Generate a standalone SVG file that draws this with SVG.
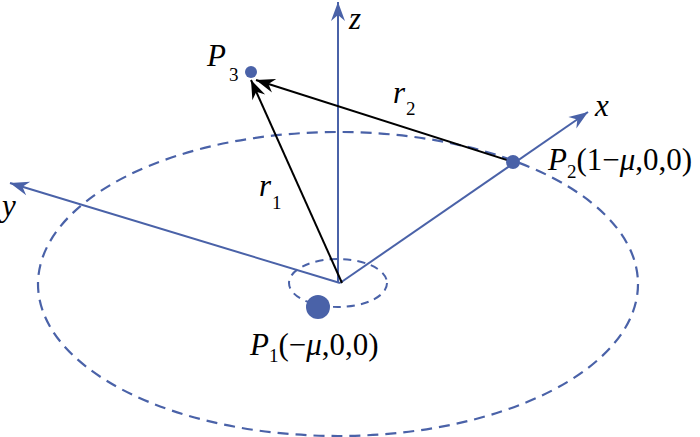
<svg xmlns="http://www.w3.org/2000/svg" width="700" height="437" viewBox="0 0 700 437">
<style>
.ax{stroke:#4a62a8;stroke-width:2;fill:none}
.dash{stroke:#4a62a8;stroke-width:2.2;fill:none;stroke-dasharray:11 7}
.dash2{stroke:#4a62a8;stroke-width:2;fill:none;stroke-dasharray:8 6}
.vec{stroke:#000;stroke-width:2;fill:none}
.dot{fill:#4a62a8}
text{font-family:"Liberation Serif","Times New Roman",serif;fill:#000}
.lbl{font-size:31px}
.it{font-style:italic}
.sub{font-size:19px}
</style>
<defs>
<marker id="ab" markerUnits="userSpaceOnUse" markerWidth="24" markerHeight="16" viewBox="-20 -8 22 16" refX="0" refY="0" orient="auto">
<path d="M0,0 L-19,-7 L-13,0 L-19,7 Z" fill="#4a62a8"/>
</marker>
<marker id="ak" markerUnits="userSpaceOnUse" markerWidth="24" markerHeight="16" viewBox="-20 -8 22 16" refX="0" refY="0" orient="auto">
<path d="M0,0 L-19,-7 L-13,0 L-19,7 Z" fill="#000"/>
</marker>
</defs>
<g id="orbits">
<ellipse class="dash" cx="338" cy="284" rx="300" ry="152"/>
<ellipse class="dash2" cx="338" cy="283" rx="49" ry="24"/>
</g>
<g id="connectors">
<line id="z-axis" class="ax" x1="338" y1="283" x2="338" y2="2" marker-end="url(#ab)"/>
<line id="x-axis" class="ax" x1="340" y1="283" x2="588" y2="112" marker-end="url(#ab)"/>
<line id="y-axis" class="ax" x1="340" y1="283" x2="10" y2="183" marker-end="url(#ab)"/>
<line id="r1" class="vec" x1="342" y1="283" x2="251" y2="80" marker-end="url(#ak)"/>
<line id="r2" class="vec" x1="513" y1="162" x2="256" y2="80" marker-end="url(#ak)"/>
</g>
<g id="P1">
<circle class="dot" cx="318" cy="307" r="12"/>
<text class="lbl" x="250" y="355"><tspan class="it">P</tspan><tspan class="sub" dy="7">1</tspan><tspan dy="-7">(−</tspan><tspan class="it">μ</tspan><tspan>,0,0)</tspan></text>
</g>
<g id="P2">
<circle class="dot" cx="513" cy="162" r="7"/>
<text class="lbl" x="548" y="170"><tspan class="it">P</tspan><tspan class="sub" dy="8">2</tspan><tspan dy="-8">(1−</tspan><tspan class="it">μ</tspan><tspan>,0,0)</tspan></text>
</g>
<g id="P3">
<circle class="dot" cx="251" cy="72" r="6"/>
<text class="lbl it" x="207" y="66">P</text>
<text class="sub" x="229" y="81">3</text>
</g>
<g id="labels">
<text class="lbl it" x="349" y="29">z</text>
<text class="lbl it" x="595" y="116">x</text>
<text class="lbl it" x="2" y="216">y</text>
<text class="lbl it" x="393" y="103">r</text>
<text class="sub" x="406" y="115">2</text>
<text class="lbl it" x="259" y="196">r</text>
<text class="sub" x="272" y="209">1</text>
</g>
</svg>
